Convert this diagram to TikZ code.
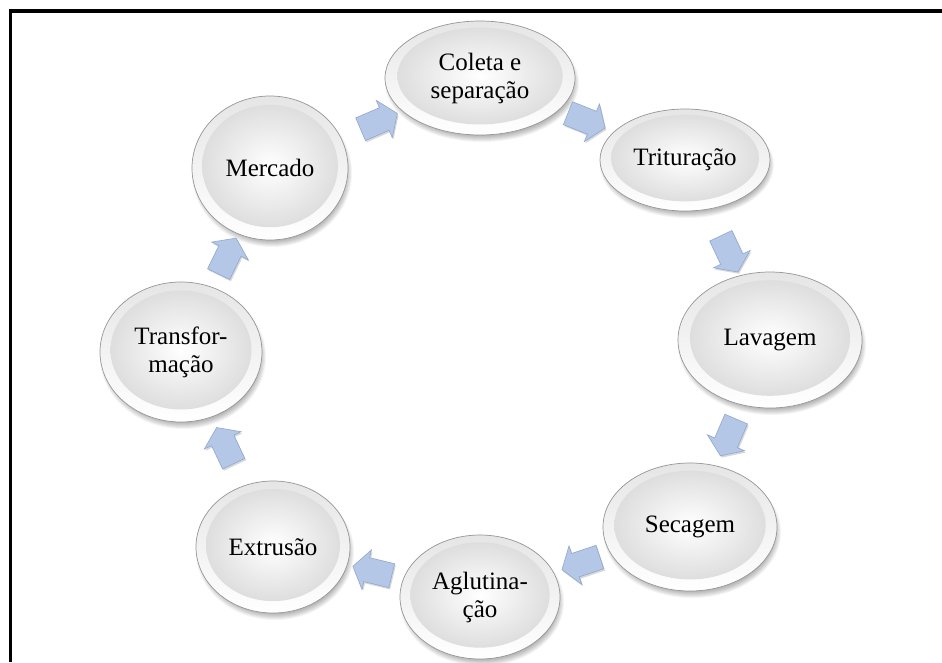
\documentclass[tikz,border=0pt]{standalone}
\usepackage{fontspec}
\setmainfont{Liberation Serif}
\usetikzlibrary{shapes.geometric,shapes.arrows,shadows,calc}

\definecolor{arrowfill}{RGB}{180,199,231}
\definecolor{arrowedge}{RGB}{143,167,207}
\definecolor{rimedge}{RGB}{150,150,150}

\tikzset{
  bubbletext/.style={ellipse, inner sep=0pt, align=center,
    font=\fontsize{25}{28}\selectfont},
  cyclearrow/.style={single arrow, draw=arrowedge, fill=arrowfill,
    line width=0.6pt, inner xsep=0pt, inner ysep=12pt, minimum height=40pt,
    single arrow head extend=8pt, single arrow tip angle=110,
    drop shadow={opacity=0.3, shadow xshift=1.2pt, shadow yshift=-1.8pt}},
  frameline/.style={line width=3.6pt, black}
}

% name, x, y, x radius, y radius, text
\newcommand\bubble[6]{%
  \foreach \k in {0,...,6}
    \fill[black, opacity=0.045] (#2+2,#3+5) ellipse [x radius=#4+2-\k, y radius=#5+2-\k];
  \shade[top color=gray!20, bottom color=white, draw=rimedge, line width=0.7pt]
    (#2,#3) ellipse [x radius=#4, y radius=#5];
  \shade[inner color=white, outer color=gray!26]
    (#2,#3-2) ellipse [x radius=0.87*#4, y radius=0.85*#5];
  \node[bubbletext, minimum width=2*#4, minimum height=2*#5] (#1) at (#2,#3) {#6};
}

% block arrow halfway between two named bubbles, pointing from the first to the second
\newcommand\cyclestep[2]{%
  \path let \p1=($(#2)-(#1)$), \n1={atan2(\y1,\x1)} in
    node[cyclearrow, rotate=\n1] at ($(#1)!0.5!(#2)$) {};
}

\begin{document}
\begin{tikzpicture}[x=1pt, y=-1pt]
  \useasboundingbox (0,0) rectangle (942,662);
  \fill[white] (0,0) rectangle (942,662);

  % frame along the left and top edges
  \draw[frameline] (10.3,662) -- (10.3,11) -- (942,11);

  \bubble{coleta}{480}{78}{95}{57}{Coleta e\\separação}
  \bubble{tritura}{685}{160}{85}{51}{Trituração}
  \bubble{lavagem}{770}{340}{92}{68}{Lavagem}
  \bubble{secagem}{690}{527}{87}{64}{Secagem}
  \bubble{aglut}{480}{597}{80}{62}{Aglutina-\\ção}
  \bubble{extrusao}{273}{547}{77}{66}{Extrusão}
  \bubble{transf}{181}{352}{81}{70}{Transfor-\\mação}
  \bubble{mercado}{270}{168}{78}{72}{Mercado}

  \cyclestep{mercado}{coleta}
  \cyclestep{coleta}{tritura}
  \cyclestep{tritura}{lavagem}
  \cyclestep{lavagem}{secagem}
  \cyclestep{secagem}{aglut}
  \cyclestep{aglut}{extrusao}
  \cyclestep{extrusao}{transf}
  \cyclestep{transf}{mercado}
\end{tikzpicture}
\end{document}
